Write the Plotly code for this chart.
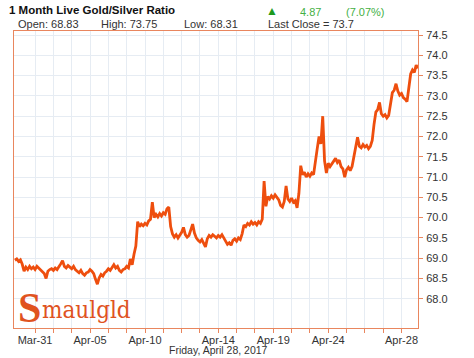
import plotly.graph_objects as go

# ---- data ----
x_start = -1.1          # trading-day index of first sample (Mar-31 = 0)
x_step = 0.1
ratio = [
    68.95, 68.98, 68.92, 68.96, 68.85, 68.68, 68.78, 68.72, 68.80, 68.74,
    68.78, 68.72, 68.80, 68.76, 68.72, 68.66, 68.62, 68.50, 68.68, 68.72,
    68.74, 68.70, 68.76, 68.72, 68.78, 68.86, 68.94, 68.80, 68.76, 68.82,
    68.78, 68.74, 68.80, 68.72, 68.68, 68.64, 68.70, 68.62, 68.58, 68.64,
    68.66, 68.72, 68.68, 68.62, 68.48, 68.36, 68.52, 68.60, 68.56, 68.64,
    68.68, 68.74, 68.70, 68.78, 68.84, 68.76, 68.80, 68.70, 68.66, 68.72,
    68.74, 68.80, 68.76, 68.98, 68.84, 69.10, 69.30, 69.90, 69.78, 69.84,
    69.80, 69.86, 69.82, 69.92, 69.96, 70.38, 70.00, 70.08, 70.02, 70.10,
    70.04, 70.12, 70.08, 70.22, 70.26, 69.78, 69.60, 69.52, 69.58, 69.50,
    69.56, 69.64, 69.76, 69.58, 69.52, 69.56, 69.70, 69.84, 69.62, 69.50,
    69.44, 69.40, 69.46, 69.38, 69.28, 69.48, 69.56, 69.52, 69.58, 69.54,
    69.50, 69.56, 69.52, 69.58, 69.50, 69.40, 69.34, 69.38, 69.32, 69.44,
    69.48, 69.42, 69.50, 69.46, 69.60, 69.82, 69.78, 69.86, 69.82, 69.90,
    69.84, 69.88, 69.82, 69.90, 69.86, 69.96, 70.90, 70.28, 70.52, 70.46,
    70.54, 70.48, 70.56, 70.50, 70.44, 70.30, 70.26, 70.40, 70.78, 70.46,
    70.40, 70.48, 70.38, 70.42, 70.24, 70.60, 71.28, 71.06, 71.12, 71.00,
    71.08, 71.02, 71.10, 71.06, 71.44, 71.70, 72.00, 71.82, 72.50, 71.40,
    71.10, 71.34, 71.26, 71.32, 71.40, 71.46, 71.36, 71.42, 71.26, 71.20,
    71.00, 71.18, 71.24, 71.16, 71.26, 71.50, 71.78, 71.98, 71.76, 71.72,
    71.80, 71.74, 71.78, 71.70, 71.76, 71.90, 72.30, 72.60, 72.66, 72.84,
    72.56, 72.50, 72.54, 72.46, 72.52, 72.80, 73.08, 73.14, 73.30, 73.12,
    73.02, 73.06, 72.96, 72.92, 72.86, 73.20, 73.54, 73.64, 73.58, 73.76,
    73.68,
]
trading_days = ["Mar-31", "Apr-03", "Apr-04", "Apr-05", "Apr-06", "Apr-07",
                "Apr-10", "Apr-11", "Apr-12", "Apr-13", "Apr-14", "Apr-17",
                "Apr-18", "Apr-19", "Apr-20", "Apr-21", "Apr-24", "Apr-25",
                "Apr-26", "Apr-27", "Apr-28"]
labelled_days = ["Mar-31", "Apr-05", "Apr-10", "Apr-14", "Apr-19", "Apr-24", "Apr-28"]
y_ticks = [68.0, 68.5, 69.0, 69.5, 70.0, 70.5, 71.0, 71.5, 72.0, 72.5, 73.0, 73.5, 74.0, 74.5]

x_vals = [x_start + i * x_step for i in range(len(ratio))]
tick_pos = list(range(len(trading_days)))
tick_txt = [d if d in labelled_days else "" for d in trading_days]

ORANGE = "#EE4E0E"
FRAME = "#E9865E"
GRID = "#E6ECF3"
TXT = "#333333"
FONT = "Liberation Sans, Arial, sans-serif"

fig = go.Figure()
fig.add_trace(go.Scatter(x=x_vals, y=ratio, mode="lines",
                         line=dict(color=ORANGE, width=2.8), hoverinfo="skip"))

W, H = 474, 358
L, R, T, B = 14, 418, 31, 331

def px(xp):
    return (xp - L) / (R - L)

def py(yp):
    return (B - yp) / (B - T)

fig.update_layout(
    width=W, height=H,
    margin=dict(l=L, r=W - R, t=T, b=H - B),
    paper_bgcolor="white", plot_bgcolor="white",
    showlegend=False,
    font=dict(family=FONT, size=11, color=TXT),
    xaxis=dict(range=[-1.15, 20.9], tickmode="array", tickvals=tick_pos, ticktext=tick_txt,
               showgrid=True, gridcolor=GRID, gridwidth=1,
               showline=True, linecolor=FRAME, linewidth=1, mirror=True,
               ticks="outside", ticklen=4, tickcolor=FRAME, ticklabelstandoff=-2,
               tickfont=dict(size=11, color=TXT), zeroline=False),
    yaxis=dict(range=[67.28, 74.6], side="right", tickmode="array", tickvals=y_ticks,
               ticktext=[f"{v:.1f}" for v in y_ticks],
               showgrid=True, gridcolor=GRID, gridwidth=1,
               showline=True, linecolor=FRAME, linewidth=1, mirror=True,
               ticks="outside", ticklen=4, tickcolor=FRAME, ticklabelstandoff=1,
               tickfont=dict(size=11, color=TXT), zeroline=False),
)

def ann(text, xp, yp, size=11, color=TXT, bold=False, xanchor="left", family=FONT):
    fig.add_annotation(text=f"<b>{text}</b>" if bold else text,
                       x=px(xp), y=py(yp), xref="paper", yref="paper",
                       xanchor=xanchor, yanchor="middle", showarrow=False,
                       font=dict(size=size, color=color, family=family))

ann("1 Month Live Gold/Silver Ratio", 7, 10, size=11.5, color="#111111", bold=True)
ann("▲", 272, 11, size=12, color="#1E9A1E", xanchor="center")
ann("4.87", 298, 12, size=11, color="#44B044")
ann("(7.07%)", 344, 12, size=11, color="#44B044")
ann("Open: 68.83", 16, 24)
ann("High: 73.75", 99, 24)
ann("Low: 68.31", 182, 24)
ann("Last Close = 73.7", 266, 24)
ann("Friday, April 28, 2017", 218, 353.5, size=10.5, xanchor="center")

# logo
ann("<b>S</b>", 16, 311, size=42, color="#E0531F", family="Liberation Serif, serif")
ann("maulgld", 40, 313, size=24, color="#E0531F", family="DejaVu Serif Condensed, Liberation Serif, serif")

fig.write_html("out.html", config={"displayModeBar": False},
               post_script="document.body.style.margin='0';document.body.style.overflow='hidden';")
